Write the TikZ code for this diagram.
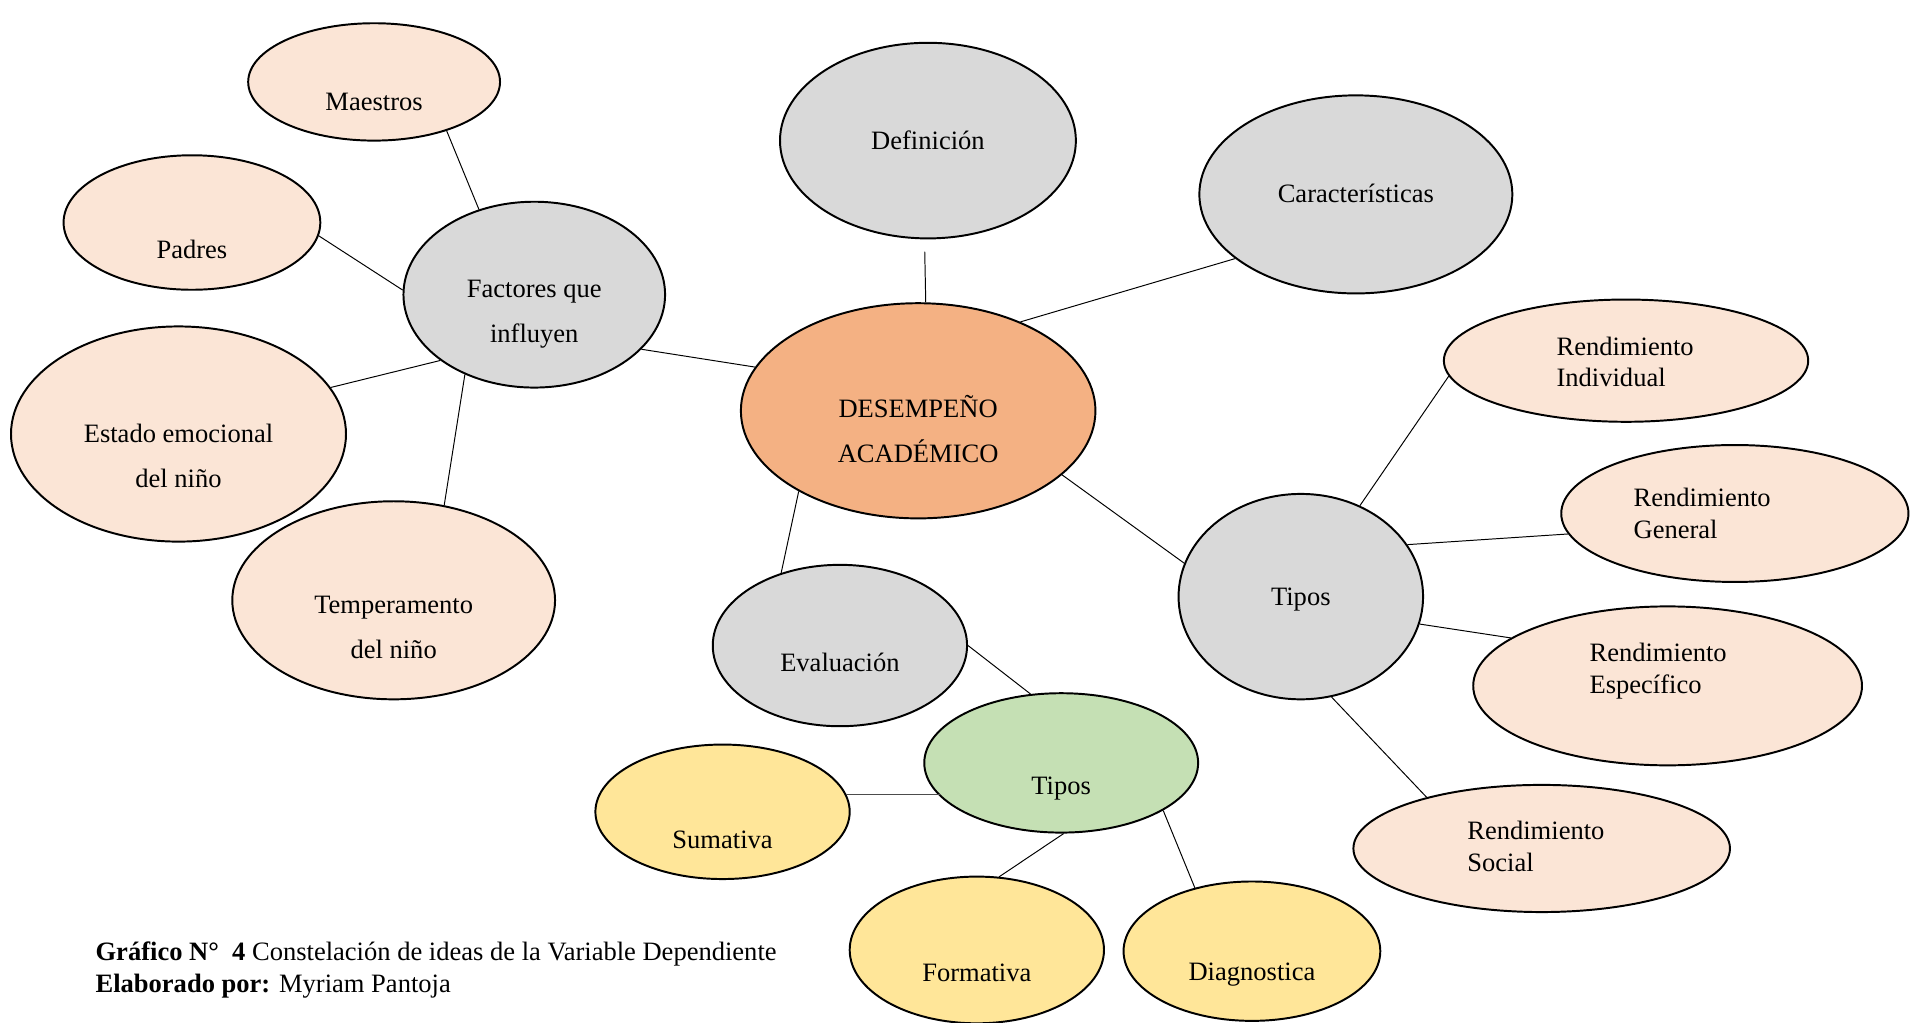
\documentclass[tikz,border=0pt]{standalone}
\usepackage{fontspec}
\setmainfont{Liberation Serif}
\usetikzlibrary{shapes.geometric}
\definecolor{peach}{HTML}{FBE5D6}
\definecolor{grayf}{HTML}{D9D9D9}
\definecolor{orangef}{HTML}{F4B183}
\definecolor{greenf}{HTML}{C5E0B4}
\definecolor{yellowf}{HTML}{FFE699}
\tikzset{
  bub/.style={ellipse, draw=black, line width=1.6pt, inner sep=0pt},
  pe/.style={bub, fill=peach},
  gr/.style={bub, fill=grayf},
  orf/.style={bub, fill=orangef},
  gn/.style={bub, fill=greenf},
  ye/.style={bub, fill=yellowf},
  txt/.style={inner sep=0pt, font=\fontsize{21.7}{37}\selectfont, align=center},
  txtl/.style={inner sep=0pt, font=\fontsize{21.7}{26}\selectfont, align=left, anchor=west},
  con/.style={draw=black, line width=0.8pt},
}
\begin{document}
\begin{tikzpicture}[x=1pt,y=-1pt]
\useasboundingbox (0,0) rectangle (1568,836);
% ellipses
\node[pe, minimum width=206pt, minimum height=96pt] (mae) at (306,67) {};
\node[pe, minimum width=210pt, minimum height=110pt] (pad) at (157,182) {};
\node[gr, minimum width=214pt, minimum height=152pt] (fac) at (437,241) {};
\node[pe, minimum width=274pt, minimum height=176pt] (est) at (146,355) {};
\node[pe, minimum width=264pt, minimum height=162pt] (tem) at (322,491) {};
\node[gr, minimum width=242pt, minimum height=160pt] (def) at (759,115) {};
\node[gr, minimum width=256pt, minimum height=162pt] (car) at (1109,159) {};
\node[orf, minimum width=290pt, minimum height=176pt] (des) at (751,336) {};
\node[gr, minimum width=208pt, minimum height=132pt] (eva) at (687,528) {};
\node[gn, minimum width=224pt, minimum height=114pt] (tg) at (868,624) {};
\node[gr, minimum width=200pt, minimum height=168pt] (tip) at (1064,488) {};
\node[pe, minimum width=298pt, minimum height=100pt] (rin) at (1330,295) {};
\node[pe, minimum width=284pt, minimum height=112pt] (rge) at (1419,420) {};
\node[pe, minimum width=318pt, minimum height=130pt] (res) at (1364,561) {};
\node[pe, minimum width=308pt, minimum height=104pt] (rso) at (1261,694) {};
\node[ye, minimum width=208pt, minimum height=110pt] (sum) at (591,664) {};
\node[ye, minimum width=208pt, minimum height=120pt] (for) at (799,777) {};
\node[ye, minimum width=210pt, minimum height=114pt] (dia) at (1024,778) {};
% texts
\node[txt] (maet) at (306,83) {Maestros};
\node[txt] (padt) at (157,204) {Padres};
\node[txt] (fact) at (437,257) {Factores que\\influyen};
\node[txt] (estt) at (146,373) {Estado emocional\\del niño};
\node[txt] (temt) at (322,513) {Temperamento\\del niño};
\node[txt] (deft) at (759,115) {Definición};
\node[txt] (cart) at (1109,158) {Características};
\node[txt] (dest) at (751,351) {DESEMPEÑO\\ACADÉMICO};
\node[txt] (evat) at (687,542) {Evaluación};
\node[txt] (tgt) at (868,645) {Tipos};
\node[txt] (tipt) at (1064,490) {Tipos};
\node[txtl] (rint) at (1273,296) {Rendimiento\\Individual};
\node[txtl] (rget) at (1336,420) {Rendimiento\\General};
\node[txtl] (rest) at (1300,549) {Rendimiento\\Específico};
\node[txtl] (rsot) at (1200,692) {Rendimiento\\Social};
\node[txt] (sumt) at (591,687) {Sumativa};
\node[txt] (fort) at (799,796) {Formativa};
\node[txt] (diat) at (1024,797) {Diagnostica};
% caption
\node[inner sep=0pt, anchor=base west, font=\fontsize{21.7}{26}\selectfont] (cap1) at (78,786) {\textbf{Gráfico N°~~4} Constelación de ideas de la Variable Dependiente};
\node[inner sep=0pt, anchor=base west, font=\fontsize{21.7}{26}\selectfont] (cap2) at (78,812) {\textbf{Elaborado por:} Myriam Pantoja};
% connectors
\draw[con] (mae.-34) -- (fac.123);
\draw[con] (pad.-6) -- (fac.178);
\draw[con] (est.17) -- (fac.215);
\draw[con] (tem.62) -- (fac.229);
\draw[con] (fac.-27) -- (des.165);
\draw[con, shorten <=10pt] (def.-92) -- (des.86);
\draw[con] (car.208) -- (des.41);
\draw[con] (des.214) -- (eva.129);
\draw[con] (des.-24) -- (tip.164);
\draw[con] (tip.57) -- (rin.185);
\draw[con] (tip.26) -- (rge.187);
\draw[con] (tip.-13) -- (res.163);
\draw[con] (tip.-73) -- (rso.156);
\draw[con] (eva.0) -- (tg.114);
\draw[draw=black!70, line width=1.3pt] (sum.8) -- (sum.8 -| tg.196);
\draw[con] (tg.-88) -- (for.73);
\draw[con] (tg.-25) -- (dia.132);
\end{tikzpicture}
\end{document}
